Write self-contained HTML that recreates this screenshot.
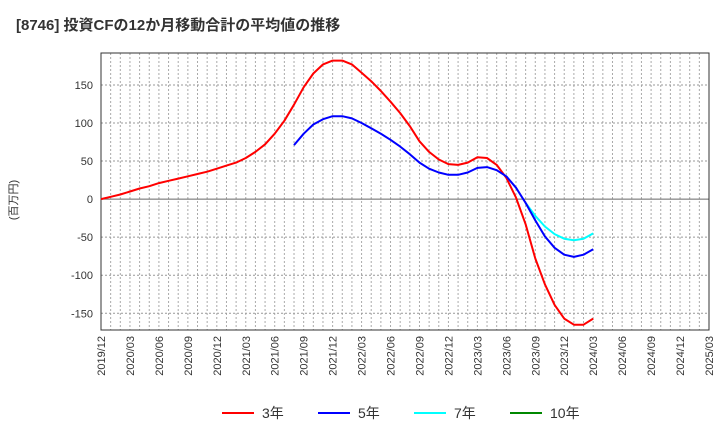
<!DOCTYPE html>
<html><head><meta charset="utf-8"><style>
body{margin:0;background:#fff;}
svg text{font-family:"Liberation Sans","Noto Sans CJK JP",sans-serif;}
</style></head><body>
<svg width="720" height="440" viewBox="0 0 720 440" xmlns="http://www.w3.org/2000/svg">
<text x="16" y="30" font-size="15" font-weight="bold" fill="#333">[8746]  投資CFの12か月移動合計の平均値の推移</text>
<text transform="translate(17,200) rotate(-90)" font-size="11" fill="#333" text-anchor="middle">(百万円)</text>
<g id="grid"></g><g id="axes"></g><g id="series"></g>
<g id="legend"></g>
</svg>
<script>
const months=["2019/12","2020/03","2020/06","2020/09","2020/12","2021/03","2021/06","2021/09","2021/12","2022/03","2022/06","2022/09","2022/12","2023/03","2023/06","2023/09","2023/12","2024/03","2024/06","2024/09","2024/12","2025/03"];
const yTicks=[150,100,50,0,-50,-100,-150];
const s3=[0,3,6,10,14,17,21,24,27,30,33,36,40,44,48,54,62,72,86,103,124,147,165,177,182,182,177,166,155,142,128,113,96,76,62,52,46,45,48,55,54,45,28,2,-33,-78,-112,-139,-157,-165,-165,-157];
const s5start=20;
const s5=[71,86,98,105,109,109,106,100,93,86,78,69,59,48,40,35,32,32,35,41,42,38,30,15,-5,-28,-49,-64,-73,-76,-73,-66];
const s7start=44;
const s7=[-5,-22,-36,-46,-52,-54,-52,-45];
const NS="http://www.w3.org/2000/svg";
const L=101,R=709,T=53,B=330,yMin=-172,yMax=192,nM=63;
const X=m=>L+(R-L)*m/nM;
const Y=v=>T+(B-T)*(yMax-v)/(yMax-yMin);
function mk(tag,attrs,parent){const e=document.createElementNS(NS,tag);for(const k in attrs)e.setAttribute(k,attrs[k]);parent.appendChild(e);return e;}
const grid=document.getElementById('grid'),axes=document.getElementById('axes'),ser=document.getElementById('series'),leg=document.getElementById('legend');
for(let m=1;m<nM;m++){const l=mk('line',{x1:X(m),x2:X(m),y1:T,y2:B,stroke:'#aaa','stroke-width':1,'stroke-dasharray':'2,2'},grid);

}
yTicks.forEach(v=>{const l=mk('line',{x1:L,x2:R,y1:Y(v),y2:Y(v),stroke:v===0?'#666':'#999','stroke-width':1,'stroke-dasharray':v===0?'':'2,2'},grid);


const t=mk('text',{x:L-8,y:Y(v)+4,'text-anchor':'end','font-size':11,fill:'#333'},axes);t.textContent=v;

});
months.forEach((s,i)=>{const x=X(i*3);const t=mk('text',{transform:`translate(${x+4},${B+6}) rotate(-90)`,'text-anchor':'end','font-size':11,fill:'#333'},axes);t.textContent=s;

});
const fr=mk('rect',{x:L,y:T,width:R-L,height:B-T,fill:'none',stroke:'#333','stroke-width':1},axes);


function line(arr,start,color,name){const p=arr.map((v,i)=>(i?'L':'M')+X(start+i).toFixed(1)+','+Y(v).toFixed(1)).join('');
const e=mk('path',{d:p,fill:'none',stroke:color,'stroke-width':2,'stroke-linejoin':'round'},ser);

}
line(s3,0,'#f00','series-3y');
line(s7,s7start,'#0ff','series-7y');
line(s5,s5start,'#00f','series-5y');
const legItems=[["3年","#f00",222],["5年","#00f",318],["7年","#0ff",414],["10年","#080",510]];
legItems.forEach(([lab,c,x])=>{const g=mk('g',{},leg);


mk('line',{x1:x,x2:x+32,y1:413,y2:413,stroke:c,'stroke-width':2},g);
const t=mk('text',{x:x+40,y:418,'font-size':14,fill:'#333'},g);t.textContent=lab;});
</script>
</body></html>
